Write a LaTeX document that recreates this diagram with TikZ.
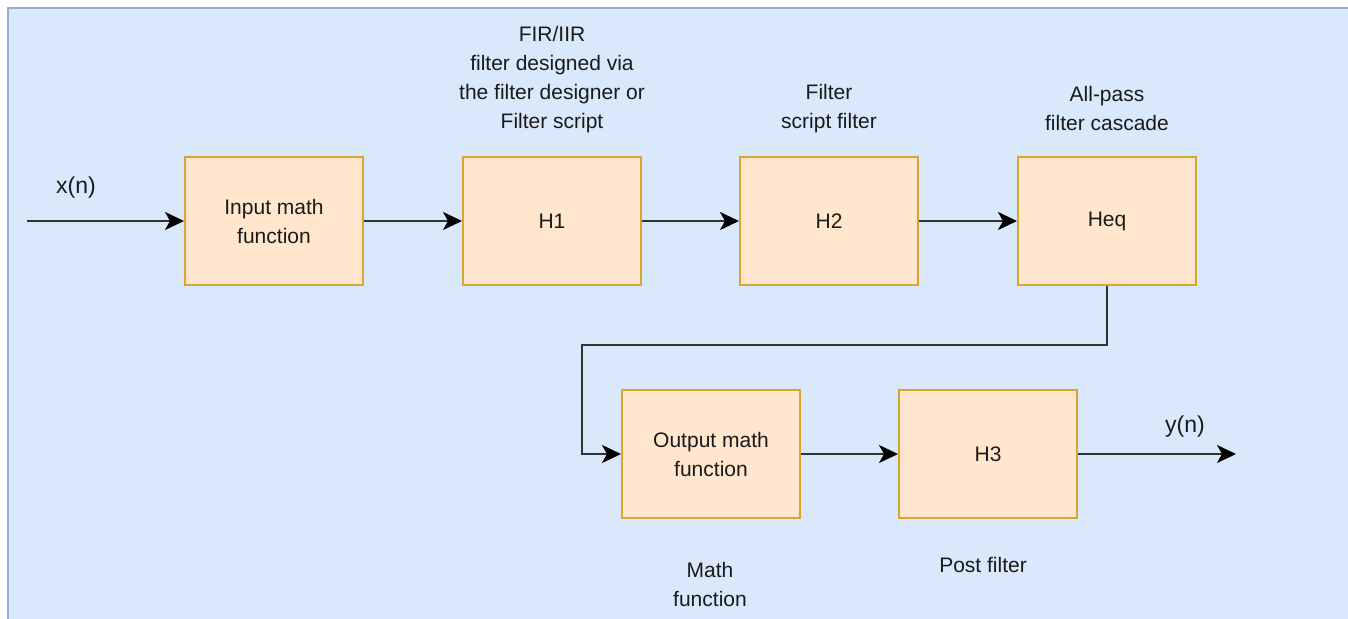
\documentclass[tikz,border=0pt]{standalone}
\usepackage{fontspec}
\setmainfont{Liberation Sans}
\usetikzlibrary{arrows.meta}
\definecolor{bgfill}{HTML}{DAE8FC}
\definecolor{bgline}{HTML}{93AEDA}
\definecolor{boxfill}{HTML}{FFE6CC}
\definecolor{boxline}{HTML}{D6A630}
\definecolor{txt}{HTML}{1A1A1A}
\tikzset{
  blk/.style={draw=boxline, fill=boxfill, line width=2pt, minimum width=178pt, minimum height=128pt, inner sep=0pt, align=center, text=txt, font=\fontsize{21}{29}\selectfont},
  lbl/.style={align=center, text=txt, font=\fontsize{21}{29}\selectfont, inner sep=0pt},
  sig/.style={text=txt, font=\fontsize{23}{26}\selectfont, inner sep=0pt},
  conn/.style={draw=black!80, line width=2pt, -{Stealth[length=19pt,width=18pt,inset=5pt,color=black]}}
}
\begin{document}
\begin{tikzpicture}[x=1pt,y=-1pt]
\useasboundingbox (0,0) rectangle (1348,618);
\fill[bgfill] (7,7) rectangle (1360,630);
\draw[bgline, line width=2.5pt] (8,630) -- (8,8) -- (1360,8);

\node[blk] (inp) at (274,221) {Input math\\function};
\node[blk] (h1) at (552,221) {H1};
\node[blk] (h2) at (829,221) {H2};
\node[blk] (heq) at (1107,221) {Heq};
\node[blk] (outm) at (711,454) {Output math\\function};
\node[blk] (h3) at (988,454) {H3};

\coordinate (xin) at (27,221);
\coordinate (yout) at (1236,454);
\coordinate (bend) at (582,345);

\node[sig] (xl) at (76,188) {x(n)};
\node[sig] (yl) at (1185,427) {y(n)};

\node[lbl] (l1) at (552,80) {FIR/IIR\\filter designed via\\the filter designer or\\Filter script};
\node[lbl] (l2) at (829,108.5) {Filter\\script filter};
\node[lbl] (l3) at (1107,108.5) {All-pass\\filter cascade};
\node[lbl] (l4) at (710,584.5) {Math\\function};
\node[lbl] (l5) at (983,565) {Post filter};

\draw[conn] (xin) -- (inp);
\draw[conn] (inp) -- (h1);
\draw[conn] (h1) -- (h2);
\draw[conn] (h2) -- (heq);
\draw[conn] (heq.south) |- (bend) |- (outm.west);
\draw[conn] (outm) -- (h3);
\draw[conn] (h3) -- (yout);
\end{tikzpicture}
\end{document}
